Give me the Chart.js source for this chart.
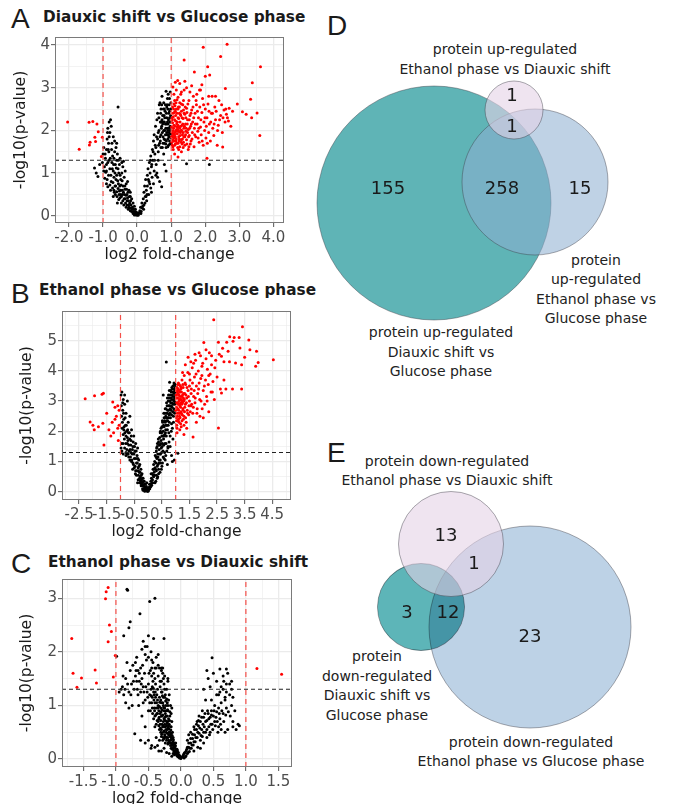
<!DOCTYPE html>
<html>
<head>
<meta charset="utf-8">
<script src="https://cdn.jsdelivr.net/npm/chart.js@4.4.1/dist/chart.umd.min.js"></script>
<style>
body { margin: 0; width: 674px; height: 804px; overflow: hidden; background: #fff; position: relative; font-family: 'DejaVu Sans', sans-serif; color: #1a1a1a; }
canvas { position: absolute; }
.letter { position: absolute; font-family: 'Liberation Sans', Arial, sans-serif; font-size: 28px; line-height: 28px; }
.ptitle { position: absolute; font-weight: bold; font-size: 15.3px; line-height: 20px; white-space: nowrap; }
.vlab { position: absolute; width: 300px; text-align: center; font-size: 14px; color: #222; white-space: nowrap; }
</style>
</head>
<body>

<div class="letter" style="left:11px;top:5px">A</div>
<div class="ptitle" style="left:43px;top:7px">Diauxic shift vs Glucose phase</div>
<div class="letter" style="left:11px;top:280px">B</div>
<div class="ptitle" style="left:39px;top:280px">Ethanol phase vs Glucose phase</div>
<div class="letter" style="left:11px;top:550px">C</div>
<div class="ptitle" style="left:48px;top:552px">Ethanol phase vs Diauxic shift</div>

<div class="letter" style="left:327px;top:12px">D</div>
<div class="vlab" style="left:355px;top:39px;line-height:20px">protein up-regulated<br>Ethanol phase vs Diauxic shift</div>
<div class="vlab" style="left:446px;top:251px;line-height:19.3px">protein<br>up-regulated<br>Ethanol phase vs<br>Glucose phase</div>
<div class="vlab" style="left:291px;top:323px;line-height:19.5px">protein up-regulated<br>Diauxic shift vs<br>Glucose phase</div>

<div class="letter" style="left:327px;top:439px">E</div>
<div class="vlab" style="left:297px;top:452px;line-height:19px">protein down-regulated<br>Ethanol phase vs Diauxic shift</div>
<div class="vlab" style="left:227px;top:647px;line-height:19.6px">protein<br>down-regulated<br>Diauxic shift vs<br>Glucose phase</div>
<div class="vlab" style="left:381px;top:733px;line-height:19px">protein down-regulated<br>Ethanol phase vs Glucose phase</div>

<canvas id="chartA" width="300" height="244" style="left:0;top:27px"></canvas>
<canvas id="chartB" width="300" height="247" style="left:0;top:301px"></canvas>
<canvas id="chartC" width="300" height="246" style="left:0;top:569px"></canvas>
<canvas id="vennD" width="374" height="400" style="left:300px;top:0"></canvas>
<canvas id="vennE" width="374" height="404" style="left:300px;top:400px"></canvas>

<script>
// cut-offs used in all three volcano plots
const foldCut = [-1, 1];
const pCut = -Math.log10(0.05);

// A: Diauxic shift vs Glucose phase  [log2 fold-change, -log10(p)]
const blackA = [
  [-1.25,1.12],[-1.2,1.0],[-1.15,0.92],[-1.1,1.2],[-1.02,1.25],[-0.98,1.05],[-0.96,1.15],[-0.95,0.88],[-0.93,1.35],[-0.9,1.55],
  [-0.88,1.8],[-0.86,2.05],[-0.82,2.2],[-0.78,2.25],[-0.76,2.1],[-0.8,1.95],[-0.84,1.7],[-0.7,1.85],[-0.66,1.75],[-0.62,1.6],
  [-0.58,1.45],[-0.56,2.55],[-0.6,1.3],[-0.64,1.2],[-0.7,1.05],[-0.72,1.4],[-0.74,1.25],[-0.8,1.1],[-0.84,0.95],[-0.88,0.85],
  [-0.9,0.75],[-0.86,0.68],[-0.8,0.72],[-0.76,0.8],[-0.72,0.65],[-0.68,0.9],[-0.65,0.7],[-0.6,0.95],[-0.56,1.1],[-0.52,1.2],
  [-0.5,1.35],[-0.48,0.85],[-0.45,1.0],[-0.42,1.15],[-0.4,1.28],[-0.38,0.9],[-0.35,1.05],[-0.36,0.62],[-0.4,0.55],[-0.44,0.6],
  [-0.48,0.5],[-0.52,0.58],[-0.56,0.64],[-0.6,0.56],[-0.64,0.5],[-0.68,0.6],[-0.7,0.45],[-0.32,0.75],[-0.3,0.5],[-0.28,0.8],
  [-0.26,0.35],[-0.24,0.6],[-0.22,0.3],[-0.2,0.45],[-0.18,0.25],[-0.16,0.4],[-0.14,0.2],[-0.12,0.3],[-0.1,0.15],[-0.08,0.22],
  [-0.06,0.1],[-0.04,0.05],[-0.02,0.08],[0,0.02],[0.02,0.04],[-0.34,0.3],[-0.38,0.4],[-0.42,0.35],[-0.3,0.25],[-0.26,0.15],
  [-0.2,0.12],[-0.46,0.3],[-0.5,0.42],[-0.54,0.38],[-0.58,0.3],[-0.2,0.55],[-0.75,1.55],[-0.68,1.35],[-0.62,0.85],[-0.55,0.75],
  [-0.47,0.72],[-0.33,0.48],[-0.28,0.42],[-0.24,0.2],[-0.16,0.1],[-0.12,0.05],[-0.08,0.02],[-1.0,1.45],[-0.92,1.02],[-0.9,1.2],
  [-0.82,1.3],[-0.78,0.6],[-0.66,1.5],[-0.5,0.95],[-0.44,0.82],[-0.36,0.7],[-0.31,0.62],[-0.27,0.55],
  [-0.98,1.6],[-0.94,1.45],[-0.9,1.05],[-0.86,1.25],[-0.83,1.5],[-0.79,1.35],[-0.77,0.95],[-0.73,1.1],[-0.71,0.78],[-0.69,1.2],
  [-0.67,0.55],[-0.63,0.7],[-0.61,1.12],[-0.59,0.45],[-0.57,0.82],[-0.54,1.0],[-0.53,0.5],[-0.51,0.7],[-0.49,0.6],[-0.46,0.45],
  [-0.43,0.5],[-0.41,0.7],[-0.39,0.25],[-0.37,0.5],[-0.35,0.4],[-0.32,0.2],[-0.29,0.35],[-0.25,0.25],[-0.23,0.45],[-0.21,0.18],
  [-0.19,0.35],[-0.15,0.15],[-0.11,0.1],[-0.07,0.05],[-0.05,0.15],[-0.03,0.02],[0.01,0.06],[0.03,0.01],[-0.45,1.25],[-0.55,1.3],
  [-0.65,1.0],[-0.85,1.55],[-0.87,1.95],[-0.82,1.85],[-0.74,1.7],[-0.6,1.7],
  [0.05,0.05],[0.08,0.12],[0.1,0.2],[0.12,0.1],[0.14,0.3],[0.15,0.18],[0.18,0.4],[0.2,0.25],[0.2,0.55],[0.22,0.7],
  [0.24,0.45],[0.25,0.85],[0.27,0.6],[0.28,0.35],[0.3,0.95],[0.3,0.7],[0.32,1.1],[0.34,0.5],[0.35,0.8],[0.36,1.25],
  [0.38,1.0],[0.4,1.4],[0.4,0.65],[0.42,1.15],[0.44,0.9],[0.45,1.55],[0.46,1.3],[0.48,1.75],[0.5,1.05],[0.5,1.9],
  [0.52,1.45],[0.54,2.1],[0.55,1.6],[0.56,1.2],[0.58,2.25],[0.6,1.8],[0.6,2.4],[0.62,1.5],[0.64,2.0],[0.65,2.6],
  [0.66,1.7],[0.68,2.2],[0.7,2.5],[0.7,1.9],[0.72,2.1],[0.73,2.8],[0.74,1.6],[0.75,2.35],[0.76,1.85],[0.78,2.0],
  [0.78,2.65],[0.8,1.7],[0.8,2.2],[0.82,2.45],[0.83,1.9],[0.84,2.05],[0.85,2.92],[0.86,1.75],[0.87,2.3],[0.88,2.6],
  [0.9,1.8],[0.9,2.0],[0.91,2.15],[0.92,1.65],[0.93,2.4],[0.94,1.95],[0.95,2.75],[0.96,1.85],[0.97,2.1],[0.98,2.5],
  [0.99,1.7],[0.72,0.68],[0.6,0.9],[0.66,0.8],[1.45,1.22],[2.12,1.2],[0.55,0.95],[0.85,1.6],[0.88,1.9],[0.92,2.25],
  [0.95,1.75],[0.97,2.9],[0.99,2.2],[0.82,1.78],[0.76,2.2],[0.7,1.6],[0.62,1.3],[0.58,1.0],[0.48,0.75],[0.42,0.55],
  [0.78,1.45],[0.86,2.15],[0.9,2.5],[0.94,2.05],[0.98,1.92],[0.8,1.2],[0.85,1.05],
  [0.62,1.95],[0.64,2.3],[0.67,1.85],[0.69,2.4],[0.71,2.05],[0.72,2.6],[0.74,1.95],[0.75,2.15],[0.77,2.5],[0.79,1.8],
  [0.81,2.3],[0.81,2.0],[0.83,2.6],[0.84,1.68],[0.86,2.4],[0.87,1.95],[0.89,2.2],[0.89,2.75],[0.9,1.62],[0.92,2.05],
  [0.93,1.85],[0.94,2.6],[0.95,2.3],[0.96,1.68],[0.97,2.0],[0.98,2.35],[0.99,1.82],[0.99,2.65],[0.91,2.85],[0.87,2.55],
  [0.83,2.15],[0.79,2.35],[0.73,2.25],[0.68,1.75],[0.63,1.65],[0.57,1.85],[0.53,1.65],[0.51,1.3],[0.47,1.5],[0.43,1.2],
  [0.39,1.3],[0.37,0.75],[0.33,0.85],[0.29,0.5],[0.26,0.45],[0.23,0.3],[0.19,0.15],[0.16,0.22],[0.11,0.05],[0.07,0.08],
  [0.95,2.45],[0.88,2.05],[0.8,2.5],[0.76,1.7],[0.7,2.2],[0.67,2.65],[0.92,1.9],[0.96,2.2],[0.98,2.05]
];
const redA = [
  [1.02,1.72],[1.03,1.95],[1.04,2.18],[1.05,1.62],[1.05,2.4],[1.06,1.85],[1.07,2.05],[1.08,2.62],[1.09,1.75],[1.1,2.25],
  [1.1,1.9],[1.11,2.1],[1.12,1.68],[1.13,2.35],[1.14,1.98],[1.15,2.5],[1.15,1.8],[1.16,2.15],[1.17,2.72],[1.18,1.92],
  [1.19,2.02],[1.2,1.7],[1.2,2.3],[1.21,2.55],[1.22,1.85],[1.23,2.08],[1.24,2.4],[1.25,1.62],[1.26,2.2],[1.27,1.95],
  [1.28,2.85],[1.29,2.0],[1.3,1.78],[1.3,2.45],[1.32,2.12],[1.33,1.9],[1.34,2.6],[1.35,2.28],[1.36,1.72],[1.37,2.05],
  [1.38,2.95],[1.4,1.85],[1.4,2.38],[1.42,2.15],[1.43,1.98],[1.45,2.52],[1.46,1.68],[1.48,2.25],[1.5,2.02],[1.5,1.55],
  [1.52,2.7],[1.53,1.88],[1.55,2.35],[1.57,2.1],[1.58,1.75],[1.6,2.48],[1.62,1.95],[1.63,2.2],[1.65,2.8],[1.67,1.62],
  [1.68,2.05],[1.7,2.4],[1.72,1.85],[1.74,2.6],[1.76,2.15],[1.78,1.98],[1.8,2.3],[1.82,1.72],[1.84,2.55],[1.86,2.08],
  [1.88,1.9],[1.9,2.42],[1.92,2.75],[1.94,1.65],[1.96,2.2],[1.98,2.0],[2.0,2.5],[2.02,1.82],[2.05,2.3],[2.08,2.62],
  [2.1,1.95],[2.12,2.15],[2.15,1.75],[2.18,2.4],[2.2,2.8],[2.22,2.05],[2.25,1.88],[2.28,2.55],[2.3,2.25],[2.35,1.65],
  [2.38,2.12],[2.4,2.7],[2.45,2.35],[2.5,1.95],[2.55,2.48],[2.58,2.2],[2.62,2.38],[2.65,2.3],[2.7,2.52],[2.75,2.1],
  [2.8,2.45],[2.51,1.61],[1.03,2.3],[1.06,2.0],[1.08,1.82],[1.12,2.45],[1.14,1.75],[1.18,2.2],[1.22,1.98],[1.25,2.65],
  [1.01,2.08],[1.04,1.88],[1.07,2.5],[1.11,1.95],[1.16,2.02],[1.2,2.12],[1.24,1.8],[1.28,2.35],[1.32,1.68],[1.36,2.48],
  [1.01,1.85],[1.02,2.25],[1.03,1.65],[1.04,2.55],[1.05,1.78],[1.06,2.32],[1.07,1.92],[1.08,2.12],[1.09,2.42],[1.1,1.65],
  [1.11,2.58],[1.12,1.85],[1.13,2.22],[1.14,2.65],[1.15,2.0],[1.16,1.7],[1.17,2.4],[1.18,2.08],[1.19,1.6],[1.2,2.5],
  [1.21,1.98],[1.22,2.28],[1.23,1.75],[1.24,2.55],[1.25,2.05],[1.26,1.88],[1.27,2.38],[1.28,2.1],[1.29,1.72],[1.3,2.62],
  [1.31,2.0],[1.32,2.3],[1.33,1.8],[1.34,2.15],[1.35,1.95],[1.36,2.7],[1.37,1.85],[1.38,2.4],[1.39,2.1],[1.4,1.65],
  [1.41,2.55],[1.42,1.9],[1.43,2.3],[1.44,2.05],[1.45,1.78],[1.46,2.42],[1.47,2.15],[1.48,1.95],[1.49,2.62],[1.51,1.85],
  [1.53,2.25],[1.54,2.05],[1.56,1.68],[1.58,2.4],[1.59,2.15],[1.61,1.8],[1.64,2.55],[1.66,2.3],[1.69,1.9],[1.71,2.15],
  [1.73,2.7],[1.77,2.45],[1.79,1.82],[1.81,2.05],[1.83,2.95],[1.87,2.25],[1.91,1.75],[1.95,2.6],[1.99,2.3],[2.03,2.1],
  [2.06,1.7],[2.11,2.45],[2.16,2.2],[2.21,2.4],[2.26,2.15],[2.32,2.45],[2.36,2.0],[2.42,2.25],[2.48,2.6],[2.52,2.3],
  [2.6,2.5],[2.68,2.22],[1.08,2.85],[1.15,2.95],[1.2,2.78],[1.3,2.9],[1.45,3.0],[1.55,2.9],[1.6,3.05],[1.75,2.85],
  [1.4,3.15],[1.1,2.7],[1.06,1.55],[1.22,1.55],[1.35,1.6],[1.52,1.62],
  [2.64,4.02],[1.94,3.95],[2.45,3.73],[1.38,3.65],[3.62,3.49],[2.07,3.49],[1.68,3.37],[2.13,3.3],[2.0,3.27],[3.38,3.12],
  [1.19,3.17],[1.12,3.13],[1.25,3.1],[1.9,3.07],[2.59,2.98],[1.86,2.95],[3.33,2.73],[2.94,2.62],[3.52,2.41],[3.36,2.3],
  [3.6,1.88],[3.09,2.44],[3.2,2.38],[2.05,1.35],[1.1,1.45],[1.2,1.38],[1.3,1.5],[2.1,2.8],[2.3,2.8],[1.05,3.02],
  [-2.04,2.2],[-1.41,2.19],[-1.3,2.21],[-1.18,2.15],[-1.14,1.97],[-1.7,1.56],[-1.4,1.66],[-1.38,1.72],[-1.22,1.74],[-1.24,1.84],
  [-1.02,1.84],[-1.05,1.39]
];

// B: Ethanol phase vs Glucose phase
const blackB = [
  [-0.95,3.3],[-0.98,3.2],[-0.9,3.05],[-0.85,2.9],[-0.92,2.7],[-0.96,2.5],[-0.88,2.4],[-0.8,2.6],[-0.82,2.2],[-0.94,2.1],
  [-0.9,1.9],[-0.86,1.75],[-0.96,1.6],[-0.78,2.0],[-0.75,1.8],[-0.72,2.3],[-0.7,1.55],[-0.68,1.95],[-0.65,1.4],[-0.62,1.7],
  [-0.6,2.05],[-0.58,1.25],[-0.55,1.5],[-0.52,1.85],[-0.5,1.1],[-0.48,1.35],[-0.45,1.6],[-0.42,0.95],[-0.4,1.2],[-0.38,1.45],
  [-0.36,0.8],[-0.34,1.05],[-0.32,0.65],[-0.3,0.9],[-0.28,0.5],[-0.26,0.75],[-0.24,0.4],[-0.22,0.6],[-0.2,0.3],[-0.18,0.45],
  [-0.16,0.2],[-0.14,0.35],[-0.12,0.15],[-0.1,0.25],[-0.08,0.08],[-0.06,0.18],[-0.04,0.05],[-0.02,0.12],[0,0.02],[-0.98,1.3],
  [-0.9,1.25],[-0.8,1.3],[-0.6,1.0],[-0.55,0.95],[-0.45,0.7],[-0.35,0.55],[-0.3,0.3],[-0.25,0.2],[-0.2,0.1],[-0.7,1.15],
  [-0.62,1.3],[-0.85,1.45],[-0.75,1.6],[-0.66,2.5],[-0.75,3.0],[-0.85,3.2],[-0.92,2.95],[-0.88,2.05],[-0.8,1.85],[-0.72,1.25],
  [-0.5,0.8],[-0.42,0.55],[-0.38,0.3],[-0.32,0.4],[-0.26,0.28],[-0.18,0.05],[-0.12,0.02],[-0.05,0.3],
  [-0.97,2.85],[-0.93,2.3],[-0.91,1.6],[-0.89,2.6],[-0.87,2.15],[-0.84,1.95],[-0.83,2.45],[-0.81,1.6],[-0.79,2.2],[-0.77,1.4],
  [-0.74,2.05],[-0.73,1.7],[-0.71,1.95],[-0.69,1.35],[-0.67,1.75],[-0.64,1.15],[-0.63,1.55],[-0.61,1.85],[-0.59,1.05],[-0.57,1.4],
  [-0.54,1.65],[-0.53,0.9],[-0.51,1.25],[-0.49,1.5],[-0.47,0.85],[-0.44,1.1],[-0.43,1.35],[-0.41,0.7],[-0.39,0.95],[-0.37,1.1],
  [-0.35,0.7],[-0.33,0.85],[-0.31,0.45],[-0.29,0.65],[-0.27,0.35],[-0.25,0.55],[-0.23,0.25],[-0.21,0.45],[-0.19,0.2],[-0.17,0.35],
  [-0.15,0.1],[-0.13,0.25],[-0.11,0.08],[-0.09,0.15],[-0.07,0.05],[-0.03,0.02],[-0.95,1.35],[-0.98,1.45],[-0.8,1.2],[-0.76,1.25],
  [-0.66,1.05],[-0.56,0.75],[-0.46,0.6],[-0.36,0.4],
  [0.02,0.06],[0.04,0.15],[0.06,0.1],[0.08,0.25],[0.1,0.35],[0.1,0.18],[0.12,0.45],[0.14,0.3],[0.15,0.6],[0.16,0.4],
  [0.18,0.75],[0.2,0.5],[0.2,0.9],[0.22,0.65],[0.24,1.0],[0.25,0.8],[0.26,1.2],[0.28,0.95],[0.3,1.35],[0.3,0.7],
  [0.32,1.1],[0.33,1.5],[0.35,1.25],[0.36,0.9],[0.38,1.65],[0.4,1.4],[0.4,1.05],[0.42,1.8],[0.43,1.55],[0.45,1.25],
  [0.45,2.0],[0.47,1.7],[0.48,1.45],[0.5,2.15],[0.5,1.85],[0.52,1.6],[0.53,2.3],[0.55,2.0],[0.56,1.75],[0.58,2.45],
  [0.58,2.15],[0.6,1.9],[0.61,2.6],[0.62,2.3],[0.64,2.05],[0.65,2.75],[0.66,2.45],[0.68,2.2],[0.69,2.85],[0.7,2.6],
  [0.71,2.35],[0.73,3.0],[0.74,2.7],[0.75,2.45],[0.76,3.1],[0.78,2.85],[0.79,2.6],[0.8,3.2],[0.82,2.95],[0.83,2.7],
  [0.84,3.3],[0.86,3.05],[0.87,2.8],[0.88,3.4],[0.9,3.15],[0.91,2.9],[0.92,3.5],[0.94,3.25],[0.95,3.0],[0.96,3.55],
  [0.97,3.35],[0.98,3.1],[0.99,3.45],[0.66,4.29],[0.78,3.62],[0.55,3.2],[0.35,0.5],[0.5,0.85],[0.7,0.9],[0.85,1.2],
  [0.95,1.05],[1.08,1.28],[0.6,1.3],[0.45,0.95],[0.65,1.6],[0.75,1.95],[0.85,2.25],[0.92,2.5],[0.97,2.7],[0.55,1.15],
  [0.8,1.5],[0.88,1.0],[0.25,0.3],[0.3,0.55],[0.38,0.75],[0.62,1.05],[0.72,1.45],[0.9,1.75],
  [0.31,1.45],[0.33,0.85],[0.34,1.6],[0.36,1.15],[0.37,1.75],[0.39,0.95],[0.41,1.55],[0.42,1.25],[0.44,1.95],[0.44,1.05],
  [0.46,1.6],[0.47,2.1],[0.49,1.3],[0.49,1.95],[0.51,1.5],[0.52,2.35],[0.54,1.35],[0.54,1.85],[0.56,2.2],[0.57,1.55],
  [0.57,2.6],[0.59,1.85],[0.6,2.35],[0.61,1.6],[0.62,2.75],[0.63,1.95],[0.64,2.5],[0.65,2.2],[0.66,1.85],[0.67,2.95],
  [0.67,2.6],[0.68,2.35],[0.7,2.05],[0.7,3.1],[0.71,2.7],[0.72,2.45],[0.73,2.2],[0.74,3.2],[0.75,2.85],[0.76,2.55],
  [0.77,2.3],[0.77,3.35],[0.79,3.0],[0.8,2.75],[0.81,2.45],[0.82,3.35],[0.83,3.1],[0.84,2.85],[0.85,2.55],[0.86,3.45],
  [0.87,3.2],[0.88,2.95],[0.89,2.65],[0.9,3.5],[0.91,3.3],[0.92,3.05],[0.93,2.75],[0.94,3.6],[0.95,3.4],[0.96,3.15],
  [0.97,2.9],[0.98,3.55],[0.99,3.3],[0.99,2.95],[0.96,2.6],[0.92,2.3],[0.88,2.1],[0.84,2.0],[0.8,1.85],[0.76,1.65],
  [0.72,1.5],[0.68,1.35],[0.64,1.2],[0.58,1.1],[0.52,0.95],[0.48,0.75],[0.43,0.65],[0.38,0.6],[0.33,0.45],[0.28,0.35],
  [0.27,0.75],[0.29,1.15],[0.23,0.55],[0.21,0.75],[0.19,0.55],[0.17,0.3],[0.13,0.22],[0.11,0.6],[0.07,0.15],[0.05,0.25],
  [0.03,0.1]
];
const redB = [
  [1.02,2.45],[1.03,2.8],[1.04,3.1],[1.05,3.45],[1.06,2.6],[1.07,2.95],[1.08,3.25],[1.09,2.35],[1.1,3.6],[1.11,2.7],
  [1.12,3.0],[1.13,3.35],[1.14,2.5],[1.15,2.85],[1.16,3.15],[1.17,3.5],[1.18,2.25],[1.19,2.65],[1.2,3.05],[1.21,3.3],
  [1.22,2.9],[1.23,3.7],[1.24,2.55],[1.25,3.2],[1.26,2.75],[1.27,3.45],[1.28,2.4],[1.3,3.0],[1.31,3.85],[1.32,2.65],
  [1.33,3.25],[1.35,2.9],[1.36,3.55],[1.38,2.3],[1.4,3.1],[1.42,2.7],[1.44,3.95],[1.45,3.35],[1.47,2.55],[1.5,3.0],
  [1.52,3.7],[1.55,2.85],[1.57,3.4],[1.6,4.1],[1.62,2.6],[1.65,3.15],[1.68,3.8],[1.7,2.95],[1.72,4.35],[1.75,3.5],
  [1.78,2.75],[1.8,3.25],[1.82,4.0],[1.85,3.6],[1.88,2.5],[1.9,4.5],[1.92,3.0],[1.95,3.85],[1.98,4.25],[2.0,3.35],
  [2.02,4.94],[2.05,2.9],[2.08,3.7],[2.1,4.4],[2.12,3.15],[2.15,4.05],[2.18,3.55],[2.2,2.65],[2.22,4.6],[2.25,3.9],
  [2.28,3.3],[2.3,4.2],[2.35,3.65],[2.38,5.69],[2.4,3.05],[2.45,4.35],[2.5,3.8],[2.55,2.11],[2.58,4.55],[2.62,3.4],
  [2.66,4.48],[2.7,4.75],[2.75,3.7],[2.82,3.4],[2.66,3.27],[2.9,4.65],[2.96,5.13],[3.06,3.4],[3.08,4.98],[3.12,5.1],
  [3.17,4.26],[3.33,4.76],[3.39,4.2],[3.39,3.4],[3.42,5.46],[3.5,4.45],[3.69,4.7],[3.65,5.02],[3.9,4.15],[3.93,4.65],
  [3.99,4.28],[4.54,4.37],[1.63,1.81],[1.3,1.9],[1.15,2.05],[1.05,1.95],[1.4,2.1],[1.75,2.3],[2.0,2.45],[1.06,3.3],
  [1.09,2.9],[1.12,3.2],[1.16,2.6],[1.2,3.45],[1.24,3.0],[1.04,2.2],[1.08,3.55],[1.14,3.05],[1.18,2.95],[1.28,3.1],
  [1.01,2.7],[1.02,3.2],[1.03,2.35],[1.04,2.95],[1.05,3.35],[1.06,2.5],[1.07,3.1],[1.08,2.75],[1.09,3.4],[1.1,2.4],
  [1.11,3.2],[1.12,2.6],[1.13,3.55],[1.14,2.9],[1.15,3.3],[1.16,2.45],[1.17,3.05],[1.18,2.8],[1.19,3.4],[1.21,2.6],
  [1.22,3.15],[1.23,2.35],[1.25,2.95],[1.26,3.55],[1.27,2.7],[1.29,3.25],[1.3,2.5],[1.31,3.05],[1.33,2.8],[1.34,3.6],
  [1.36,2.45],[1.37,3.2],[1.39,2.95],[1.41,3.45],[1.43,2.6],[1.46,3.15],[1.48,2.85],[1.5,3.5],[1.53,2.65],[1.56,3.25],
  [1.58,2.9],[1.61,3.6],[1.64,2.8],[1.67,3.35],[1.71,3.1],[1.74,3.9],[1.77,2.6],[1.83,3.4],[1.87,3.05],[1.91,3.75],
  [1.96,2.75],[2.04,3.5],[2.14,3.0],[2.2,3.85],[2.33,3.3],[2.42,4.1],[1.7,4.55],[1.85,4.6],[1.55,4.3],[1.45,4.45],
  [1.35,4.2],[1.25,3.95],[1.5,3.9],[1.65,4.25],[1.95,4.15],[2.1,4.7],[2.3,4.5],[2.55,4.95],[2.85,4.95],[2.75,4.3],
  [3.3,5.1],[2.95,4.3],[1.2,2.15],[1.3,2.2],[1.12,2.3],[1.05,2.1],
  [-2.28,3.08],[-1.94,3.18],[-1.67,3.23],[-1.62,3.26],[-1.28,2.97],[-1.2,2.8],[-1.1,2.85],[-1.05,2.7],[-2.1,2.31],[-1.95,2.05],
  [-1.64,2.27],[-1.6,1.55],[-1.42,2.05],[-1.3,2.3],[-1.15,2.5],[-1.1,2.1],[-1.05,2.2],[-1.25,1.95],[-1.35,1.85],[-1.8,2.15],
  [-2.0,2.2],[-1.5,2.6],[-1.2,2.4],[-1.08,1.7]
];

// C: Ethanol phase vs Diauxic shift
const blackC = [
  [-0.9,1.35],[-0.88,1.2],[-0.85,1.5],[-0.83,1.8],[-0.8,1.25],[-0.78,1.65],[-0.76,1.4],[-0.74,1.75],[-0.72,1.3],[-0.7,1.55],
  [-0.68,1.9],[-0.66,1.2],[-0.64,1.45],[-0.62,1.7],[-0.6,2.05],[-0.58,1.35],[-0.56,1.6],[-0.55,1.1],[-0.53,1.85],[-0.52,2.1],
  [-0.5,1.4],[-0.5,2.3],[-0.48,1.2],[-0.47,1.65],[-0.46,2.0],[-0.45,1.05],[-0.44,1.35],[-0.43,1.8],[-0.42,2.25],[-0.41,0.95],
  [-0.4,1.5],[-0.39,1.15],[-0.38,1.7],[-0.37,0.85],[-0.36,1.3],[-0.35,1.0],[-0.35,1.95],[-0.34,0.75],[-0.33,1.15],[-0.32,1.45],
  [-0.32,0.65],[-0.31,0.95],[-0.3,1.25],[-0.3,0.55],[-0.29,0.8],[-0.28,1.05],[-0.28,1.6],[-0.27,0.5],[-0.27,0.7],[-0.26,0.9],
  [-0.25,1.15],[-0.25,0.45],[-0.24,0.6],[-0.23,0.8],[-0.23,1.0],[-0.22,0.4],[-0.21,0.55],[-0.2,0.7],[-0.2,0.9],[-0.19,0.35],
  [-0.18,0.5],[-0.18,1.2],[-0.17,0.3],[-0.16,0.45],[-0.15,0.6],[-0.14,0.25],[-0.13,0.38],[-0.12,0.2],[-0.11,0.3],[-0.1,0.15],
  [-0.09,0.25],[-0.08,0.1],[-0.07,0.18],[-0.06,0.06],[-0.05,0.12],[-0.04,0.04],[-0.03,0.08],[-0.02,0.02],[-0.01,0.05],[0,0.01],
  [-0.6,0.8],[-0.55,0.6],[-0.5,0.35],[-0.45,0.25],[-0.71,0.47],[-0.65,1.0],[-0.75,1.0],[-0.8,0.95],[-0.85,1.05],[-0.95,1.25],
  [-0.92,1.3],[-0.4,0.6],[-0.38,0.4],[-0.36,0.25],[-0.33,0.35],[-0.3,0.15],[-0.26,0.2],[-0.22,0.12],[-0.18,0.1],[-0.14,0.05],
  [-0.55,1.95],[-0.45,1.55],[-0.42,1.25],[-0.3,1.7],[-0.26,1.4],[-0.22,1.3],[-0.2,1.5],[-0.5,0.9],[-0.6,1.5],[-0.66,1.65],
  [-0.34,0.9],[-0.31,1.1],[-0.29,0.65],[-0.27,1.0],[-0.26,0.6],[-0.24,0.85],[-0.24,0.3],[-0.22,0.7],[-0.21,1.05],[-0.2,0.4],
  [-0.19,0.62],[-0.17,0.8],[-0.16,0.25],[-0.15,0.4],[-0.13,0.5],[-0.12,0.1],[-0.11,0.22],[-0.35,0.7],[-0.33,0.55],[-0.3,0.8],
  [-0.28,0.35],[-0.36,1.1],[-0.38,0.95],[-0.4,0.8],[-0.44,1.15],[-0.47,0.9],[-0.52,1.25],[-0.58,1.05],[-0.62,1.25],[-0.68,1.45],
  [-0.34,0.62],[-0.33,0.98],[-0.32,0.85],[-0.31,0.5],[-0.31,0.72],[-0.3,1.05],[-0.3,0.42],[-0.29,0.92],[-0.29,1.25],[-0.28,0.6],
  [-0.28,0.82],[-0.27,0.4],[-0.27,1.15],[-0.26,0.75],[-0.26,0.52],[-0.25,0.95],[-0.25,0.65],[-0.25,1.3],[-0.24,0.42],[-0.24,0.72],
  [-0.23,0.55],[-0.23,0.9],[-0.22,0.35],[-0.22,0.62],[-0.22,1.12],[-0.21,0.8],[-0.21,0.48],[-0.2,0.28],[-0.2,0.58],[-0.2,1.0],
  [-0.19,0.75],[-0.19,0.45],[-0.18,0.32],[-0.18,0.65],[-0.17,0.5],[-0.17,0.88],[-0.16,0.35],[-0.16,0.6],[-0.15,0.2],[-0.15,0.48],
  [-0.14,0.38],[-0.14,0.7],[-0.13,0.28],[-0.13,0.18],[-0.12,0.4],[-0.12,0.32],[-0.11,0.15],[-0.1,0.28],[-0.1,0.08],[-0.09,0.2],
  [-0.08,0.15],[-0.08,0.3],[-0.07,0.1],[-0.06,0.18],[-0.05,0.05],[-0.04,0.12],[-0.03,0.03],[-0.36,0.85],[-0.37,1.2],[-0.38,0.65],
  [-0.39,1.4],[-0.4,1.05],[-0.41,1.2],[-0.42,0.75],[-0.43,1.45],[-0.44,0.95],[-0.46,1.3],[-0.48,1.05],[-0.49,1.6],[-0.51,1.15],
  [-0.54,1.35],[-0.57,1.25],[-0.59,1.75],[-0.61,1.4],[-0.64,1.6],[-0.67,1.3],[-0.69,1.65],[-0.73,1.45],[-0.77,1.2],[-0.82,1.4],
  [-0.86,1.3],[-0.89,1.55],[-0.45,1.85],[-0.38,1.9],[-0.32,1.35],[-0.27,1.5],[-0.24,1.2],[-0.3,1.45],[-0.35,1.55],[-0.42,1.6],
  [-0.28,1.7],[-0.33,1.7],[-0.19,1.1],[-0.16,1.0],[-0.15,0.85],[-0.14,0.95],[-0.62,0.35],[-0.55,0.3],[-0.46,0.2],[-0.4,0.22],
  [-0.34,0.15],
  [-0.335,0.78],[-0.325,1.06],[-0.315,0.58],[-0.305,0.88],[-0.295,0.46],[-0.285,1.18],[-0.275,0.62],[-0.265,0.96],[-0.255,0.38],[-0.245,0.78],
  [-0.235,1.08],[-0.225,0.5],[-0.215,0.66],[-0.205,0.92],[-0.195,0.3],[-0.185,0.56],[-0.175,0.72],[-0.165,0.42],[-0.155,0.54],[-0.145,0.3],
  [-0.135,0.44],[-0.125,0.26],[-0.115,0.36],[-0.105,0.2],[-0.095,0.12],[-0.085,0.24],[-0.075,0.14],[-0.065,0.08],[-0.055,0.16],[-0.045,0.07],
  [-0.355,0.95],[-0.365,0.72],[-0.375,1.05],[-0.385,0.82],[-0.395,1.25],[-0.405,0.9],[-0.415,1.1],[-0.425,1.32],[-0.435,0.85],[-0.455,1.18],
  [-0.83,3.17],[-0.82,3.15],[-0.48,2.94],[-0.4,3.0],[-0.63,2.71],[-0.78,2.56],[-0.8,2.45],[-0.88,2.3],[-0.26,2.25],[-0.99,1.92],
  [-0.58,2.2],[-0.55,2.1],[-0.5,1.9],[-0.7,1.8],[-0.45,1.7],[-0.35,1.75],[-0.3,1.65],[-0.25,1.55],[-0.2,1.45],[-0.4,1.7],
  [0.02,0.03],[0.04,0.08],[0.05,0.02],[0.06,0.12],[0.08,0.06],[0.09,0.18],[0.1,0.1],[0.12,0.22],[0.13,0.14],[0.15,0.3],
  [0.16,0.2],[0.18,0.38],[0.19,0.26],[0.2,0.15],[0.21,0.45],[0.22,0.32],[0.24,0.55],[0.25,0.4],[0.26,0.22],[0.27,0.62],
  [0.28,0.48],[0.3,0.35],[0.3,0.7],[0.32,0.55],[0.33,0.42],[0.35,0.78],[0.36,0.6],[0.38,0.5],[0.4,0.72],[0.42,0.85],
  [0.43,0.6],[0.45,0.78],[0.47,0.9],[0.48,0.65],[0.5,0.8],[0.52,0.7],[0.55,0.88],[0.58,0.95],[0.6,0.75],[0.62,1.05],
  [0.65,0.85],[0.68,1.15],[0.7,0.95],[0.72,0.55],[0.75,1.2],[0.78,1.0],[0.8,0.6],[0.85,0.55],[0.88,0.65],[0.9,0.62],
  [0.48,1.89],[0.4,1.65],[0.42,1.5],[0.45,1.35],[0.5,1.6],[0.55,1.45],[0.6,1.68],[0.65,1.55],[0.7,1.68],[0.72,1.6],
  [0.75,1.4],[0.78,1.3],[0.8,1.15],[0.6,1.25],[0.55,1.2],[0.35,1.3],[0.38,1.1],[0.33,0.9],[0.28,0.8],[0.25,0.7],
  [0.2,0.6],[0.15,0.5],[0.1,0.35],[0.12,0.45],[0.3,0.2],[0.35,0.3],[0.4,0.4],[0.45,0.5],[0.68,0.5],[0.62,0.55],
  [0.58,0.6],[0.65,1.3],[0.7,1.25],[0.52,1.0],[0.47,1.1],
  [0.03,0.05],[0.05,0.1],[0.07,0.04],[0.08,0.15],[0.1,0.22],[0.11,0.12],[0.12,0.3],[0.14,0.2],[0.15,0.38],[0.17,0.26],
  [0.18,0.46],[0.2,0.32],[0.21,0.55],[0.23,0.4],[0.24,0.65],[0.26,0.5],[0.27,0.72],[0.29,0.58],[0.31,0.44],[0.32,0.78],
  [0.34,0.65],[0.35,0.5],[0.37,0.85],[0.38,0.7],[0.4,0.55],[0.41,0.9],[0.43,0.75],[0.44,0.45],[0.46,0.65],[0.47,0.82],
  [0.49,0.55],[0.51,0.9],[0.53,0.62],[0.54,0.78],[0.56,0.7],[0.57,0.5],[0.59,0.85],[0.61,0.65],[0.63,0.9],[0.66,0.7],
  [0.69,0.82],[0.73,0.88],[0.76,0.8],[0.8,0.7],[0.83,0.9],[0.7,1.4],[0.66,1.45],[0.62,1.35],[0.58,1.2],[0.68,1.1],
  [0.78,1.45]
];
const redC = [
  [-1.12,3.2],[-1.15,3.12],[-1.16,2.99],[-1.1,2.5],[-1.07,2.38],[-1.12,2.19],[-1.68,2.25],[-1.66,1.6],[-1.53,1.51],[-1.6,1.34],
  [-1.32,1.66],[-1.3,1.42],[-1.04,1.53],[-1.01,1.93],[1.17,1.69],[1.55,1.58]
];

// axis ticks (major ticks carry labels, minor ticks only a light grid line)
const xMajorA = [-2, -1, 0, 1, 2, 3, 4];
const xLabelA = ['-2.0', '-1.0', '0.0', '1.0', '2.0', '3.0', '4.0'];
const xMinorA = [-1.5, -0.5, 0.5, 1.5, 2.5, 3.5];
const yMajorA = [0, 1, 2, 3, 4];
const yMinorA = [0.5, 1.5, 2.5, 3.5];

const xMajorB = [-2.5, -1.5, -0.5, 0.5, 1.5, 2.5, 3.5, 4.5];
const xLabelB = ['-2.5', '-1.5', '-0.5', '0.5', '1.5', '2.5', '3.5', '4.5'];
const xMinorB = [-3, -2, -1, 0, 1, 2, 3, 4, 5];
const yMajorB = [0, 1, 2, 3, 4, 5];
const yMinorB = [0.5, 1.5, 2.5, 3.5, 4.5, 5.5];

const xMajorC = [-1.5, -1, -0.5, 0, 0.5, 1, 1.5];
const xLabelC = ['-1.5', '-1.0', '-0.5', '0.0', '0.5', '1.0', '1.5'];
const xMinorC = [-1.75, -1.25, -0.75, -0.25, 0.25, 0.75, 1.25];
const yMajorC = [0, 1, 2, 3];
const yMinorC = [0.5, 1.5, 2.5];

// Venn D: up-regulated proteins
const vennDSets = ['Ethanol vs Diauxic shift', 'Ethanol vs Glucose', 'Diauxic shift vs Glucose'];
const vennDCircles = [{x: 214, y: 110, r: 29}, {x: 235, y: 182, r: 73}, {x: 134, y: 203, r: 117}];
const vennDCounts = [1, 1, 258, 15, 155];
const vennDCountPos = [[212, 96], [212, 127], [202, 189], [280, 189], [88, 189]];

// Venn E: down-regulated proteins
const vennESets = ['Ethanol vs Diauxic shift', 'Diauxic shift vs Glucose', 'Ethanol vs Glucose'];
const vennECircles = [{x: 151, y: 144, r: 52.5}, {x: 121, y: 207, r: 43.5}, {x: 230, y: 227, r: 101}];
const vennECounts = [13, 1, 3, 12, 23];
const vennECountPos = [[146, 136], [174, 164], [107, 213], [148, 213], [230, 237]];

Chart.defaults.font.family = "'DejaVu Sans', sans-serif";
Chart.defaults.animation = false;

const tickFont = {size: 15};
const tickColor = '#4d4d4d';

// frame round the plotting panel
const panelBorder = {
    id: 'panelBorder',
    afterDatasetsDraw(chart) {
        const a = chart.chartArea;
        const ctx = chart.ctx;
        ctx.save();
        ctx.strokeStyle = '#7a7a7a';
        ctx.lineWidth = 1;
        ctx.strokeRect(a.left + 0.5, a.top + 0.5, a.right - a.left - 1, a.bottom - a.top - 1);
        ctx.restore();
    }
};

function axisOpts(major, labels, minor, min, max, isX, fit, title, titlePad) {
    return {
        type: 'linear',
        min: min,
        max: max,
        afterBuildTicks: (scale) => {
            scale.ticks = major.concat(minor).filter(v => v >= min && v <= max)
                .sort((a, b) => a - b).map(v => ({value: v}));
        },
        afterFit: (scale) => {
            if (isX) scale.height = fit; else scale.width = fit;
        },
        ticks: {
            autoSkip: false,
            maxRotation: 0,
            minRotation: 0,
            padding: isX ? 2 : 1,
            font: tickFont,
            color: tickColor,
            callback: (v) => {
                const i = major.indexOf(v);
                return i < 0 ? '' : labels[i];
            }
        },
        grid: {
            color: '#ebebeb',
            lineWidth: (ctx) => (ctx.tick && major.includes(ctx.tick.value)) ? 1.3 : 0.6,
            tickLength: 4,
            tickColor: (ctx) => (ctx.tick && major.includes(ctx.tick.value)) ? '#555' : 'rgba(0,0,0,0)',
            tickWidth: 1
        },
        border: {display: false},
        title: {
            display: true,
            text: title,
            color: '#1a1a1a',
            font: {size: 15.5},
            padding: titlePad
        }
    };
}

function volcano(id, black, red, c) {
    const pts = (arr) => arr.map(p => ({x: p[0], y: p[1]}));
    const cutLines = foldCut.map(v => ({
        data: [{x: v, y: c.yMin}, {x: v, y: c.yMax}],
        showLine: true, borderColor: '#f5504a', borderWidth: 1.2, borderDash: [5, 4], pointRadius: 0
    }));
    cutLines.push({
        data: [{x: c.xMin, y: pCut}, {x: c.xMax, y: pCut}],
        showLine: true, borderColor: '#222', borderWidth: 1.1, borderDash: [4, 3], pointRadius: 0
    });
    new Chart(document.getElementById(id), {
        type: 'scatter',
        data: {
            datasets: cutLines.concat([
                {data: pts(red), backgroundColor: '#ff0000', pointRadius: 1.5, pointBorderWidth: 0},
                {data: pts(black), backgroundColor: '#000000', pointRadius: 1.5, pointBorderWidth: 0}
            ])
        },
        options: {
            responsive: false,
            events: [],
            layout: {padding: {top: 10, right: c.padRight, left: 0, bottom: 0}},
            plugins: {legend: {display: false}, tooltip: {enabled: false}},
            scales: {
                x: axisOpts(c.xMajor, c.xLabels, c.xMinor, c.xMin, c.xMax, true, 48,
                    'log2 fold-change', {top: 0, bottom: 7}),
                y: axisOpts(c.yMajor, c.yMajor.map(String), c.yMinor, c.yMin, c.yMax, false, c.yWidth,
                    '-log10(p-value)', {top: c.yTitlePad, bottom: 0})
            }
        },
        plugins: [panelBorder]
    });
}

volcano('chartA', blackA, redA, {
    xMajor: xMajorA, xLabels: xLabelA, xMinor: xMinorA, xMin: -2.41, xMax: 4.31,
    yMajor: yMajorA, yMinor: yMinorA, yMin: -0.17, yMax: 4.19,
    padRight: 16, yWidth: 55, yTitlePad: 12
});
volcano('chartB', blackB, redB, {
    xMajor: xMajorB, xLabels: xLabelB, xMinor: xMinorB, xMin: -3.12, xMax: 5.18,
    yMajor: yMajorB, yMinor: yMinorB, yMin: -0.27, yMax: 5.98,
    padRight: 9, yWidth: 62, yTitlePad: 18
});
volcano('chartC', blackC, redC, {
    xMajor: xMajorC, xLabels: xLabelC, xMinor: xMinorC, xMin: -1.83, xMax: 1.71,
    yMajor: yMajorC, yMinor: yMinorC, yMin: -0.15, yMax: 3.36,
    padRight: 8, yWidth: 62, yTitlePad: 18
});

// counts written at their region positions, through the chart scales
const regionCounts = {
    id: 'regionCounts',
    beforeDatasetDraw(chart, args) {
        if (chart.data.datasets[args.index].blend) {
            chart.ctx.save();
            chart.ctx.globalCompositeOperation = chart.data.datasets[args.index].blend;
        }
    },
    afterDatasetDraw(chart, args) {
        if (chart.data.datasets[args.index].blend) chart.ctx.restore();
    },
    afterDatasetsDraw(chart, args, opts) {
        const ctx = chart.ctx;
        const sx = chart.scales.x, sy = chart.scales.y;
        ctx.save();
        ctx.font = "18px 'DejaVu Sans'";
        ctx.fillStyle = '#1a1a1a';
        ctx.textAlign = 'center';
        ctx.textBaseline = 'middle';
        opts.counts.forEach((n, i) => {
            ctx.fillText(String(n), sx.getPixelForValue(opts.pos[i][0]), sy.getPixelForValue(opts.pos[i][1]));
        });
        ctx.restore();
    }
};

function venn(id, names, circles, fills, blends, counts, pos, w, h) {
    new Chart(document.getElementById(id), {
        type: 'scatter',
        data: {
            datasets: circles.map((c, i) => ({
                label: names[i],
                data: [c],
                backgroundColor: fills[i],
                borderColor: 'rgba(60,60,70,0.55)',
                pointBorderWidth: 0.8,
                blend: blends[i],
                pointRadius: (ctx) => {
                    const s = ctx.chart.scales.x;
                    return s.getPixelForValue(ctx.raw.r) - s.getPixelForValue(0);
                }
            }))
        },
        options: {
            responsive: false,
            events: [],
            layout: {padding: 0},
            plugins: {
                legend: {display: false},
                tooltip: {enabled: false},
                regionCounts: {counts: counts, pos: pos}
            },
            scales: {
                x: {type: 'linear', min: 0, max: w, display: false},
                y: {type: 'linear', min: 0, max: h, reverse: true, display: false}
            }
        },
        plugins: [regionCounts]
    });
}

// first dataset is drawn on top
venn('vennD', vennDSets, vennDCircles,
    ['rgba(228,210,230,0.6)', 'rgba(141,175,209,0.56)', '#5fb4b6'],
    [null, null, null], vennDCounts, vennDCountPos, 374, 400);
venn('vennE', vennESets, vennECircles,
    ['rgba(228,210,230,0.6)', '#5db5b8', '#bdd2e6'],
    [null, 'multiply', null], vennECounts, vennECountPos, 374, 404);
</script>
</body>
</html>
